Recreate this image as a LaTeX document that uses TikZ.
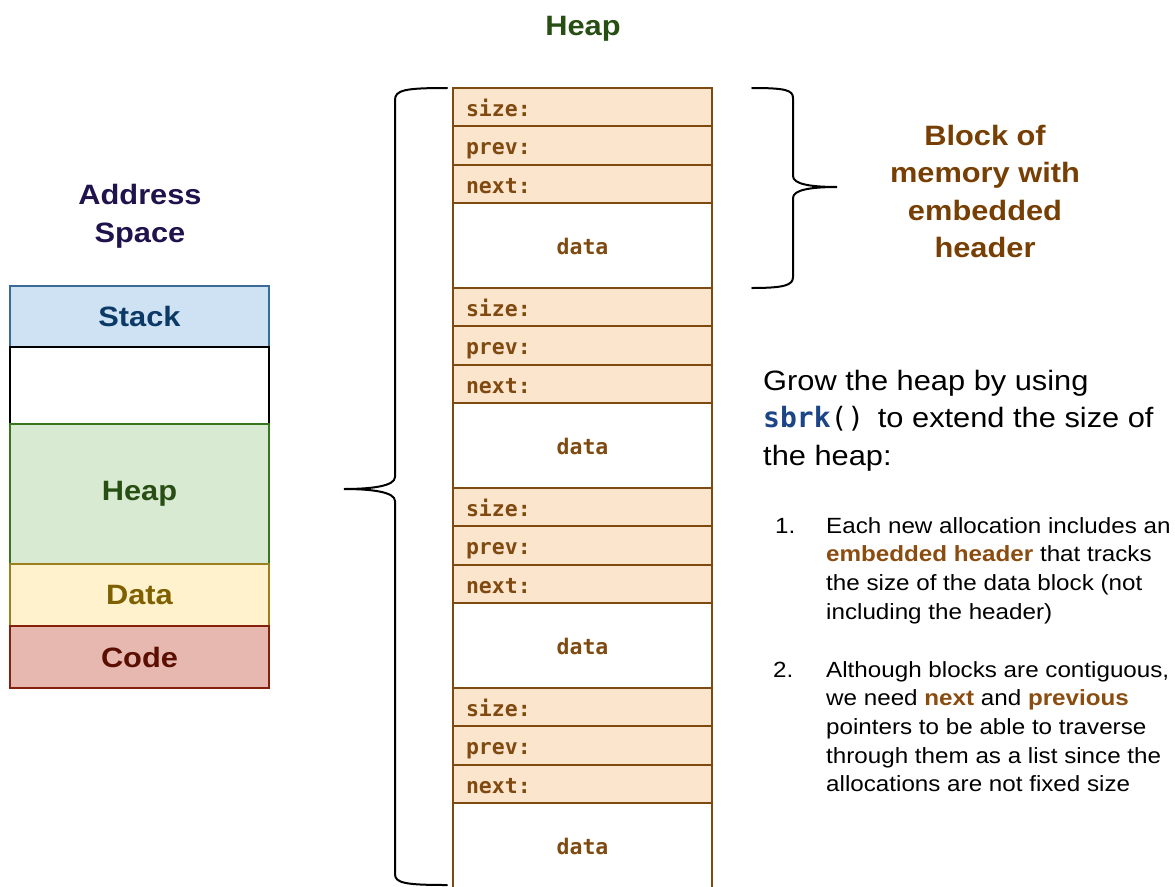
\documentclass[tikz,border=0pt]{standalone}
\usepackage{fontspec}
\setmainfont{Liberation Sans}[FakeStretch=1.1]
\newfontfamily\codefont{DejaVu Sans Mono}
\definecolor{addrpurple}{HTML}{20124D}
\definecolor{stackfill}{HTML}{CFE2F3}
\definecolor{stackline}{HTML}{3A6A98}
\definecolor{stacktext}{HTML}{0B3A66}
\definecolor{heapfill}{HTML}{D9EAD3}
\definecolor{heapline}{HTML}{38761D}
\definecolor{heaptext}{HTML}{274E13}
\definecolor{datafill}{HTML}{FFF2CC}
\definecolor{dataline}{HTML}{9A8020}
\definecolor{datatext}{HTML}{7F6000}
\definecolor{codefill}{HTML}{E6B8AF}
\definecolor{codeline}{HTML}{85200C}
\definecolor{codetext}{HTML}{5B0F00}
\definecolor{hdrfill}{HTML}{FCE5CD}
\definecolor{hdrbrown}{HTML}{7F4A10}
\definecolor{txtbrown}{HTML}{783F04}
\definecolor{accbrown}{HTML}{8B4C10}
\definecolor{sbrkblue}{HTML}{1C4587}
\tikzset{
  seg/.style={draw, line width=2pt, minimum width=259pt, inner sep=0pt,
    font=\bfseries\fontsize{28}{33}\selectfont},
  hrow/.style={draw=hdrbrown, line width=2pt, fill=hdrfill, text width=233pt,
    align=left, inner xsep=13pt, inner ysep=0pt, text height=18pt, text depth=0pt,
    font=\codefont\bfseries\fontsize{21.5}{24}\selectfont, text=hdrbrown},
  drow/.style={hrow, fill=white, align=center},
  brace/.style={line width=2pt, black, line cap=round},
  title/.style={inner sep=0pt, anchor=base, align=center, font=\bfseries\fontsize{28}{37.5}\selectfont},
  body/.style={inner sep=0pt, anchor=base west, align=left},
  listtext/.style={body, font=\fontsize{22}{28.7}\selectfont}
}
\begin{document}
\begin{tikzpicture}[x=1pt,y=-1pt]
\useasboundingbox (0,0) rectangle (1175,886);

% Address space (base anchor of a multi-line node = last line)
\node[title, text=addrpurple] (addrtitle) at (140,242) {Address\\Space};
\node[seg, draw=stackline, fill=stackfill, text=stacktext, minimum height=61pt] (stack) at (139.5,316.5) {Stack};
\node[seg, draw=black, fill=white, minimum height=77pt] (gap) at (139.5,385.5) {};
\node[seg, draw=heapline, fill=heapfill, text=heaptext, minimum height=140pt] (heapseg) at (139.5,494) {Heap};
\node[seg, draw=dataline, fill=datafill, text=datatext, minimum height=62pt] (dataseg) at (139.5,595) {Data};
\node[seg, draw=codeline, fill=codefill, text=codetext, minimum height=62pt] (codeseg) at (139.5,657) {Code};

% Heap column
\node[title, text=heaptext] (heaptitle) at (583,35) {Heap};
\foreach \k in {0,1,2,3}{
  \pgfmathsetmacro{\yo}{88+200*\k}
  \node[hrow, minimum height=38pt] (size\k) at (582.5,\yo+19) {size:};
  \node[hrow, minimum height=39pt] (prev\k) at (582.5,\yo+57.5) {prev:};
  \node[hrow, minimum height=38pt] (next\k) at (582.5,\yo+96) {next:};
  \node[drow, minimum height=85pt] (data\k) at (582.5,\yo+157.5) {data};
}

% big left brace
\draw[brace] (447,88) .. controls (405,88) and (395,90) .. (395,100) -- (395,477)
  .. controls (395,486) and (372,489) .. (344,489)
  .. controls (372,489) and (395,492) .. (395,501) -- (395,874)
  .. controls (395,883) and (405,885) .. (447,885);

% right brace
\draw[brace] (752,88) .. controls (785,88) and (793,90) .. (793,98) -- (793,176)
  .. controls (793,184) and (810,187) .. (837,187)
  .. controls (810,187) and (793,190) .. (793,198) -- (793,277)
  .. controls (793,285) and (785,288) .. (752,288);

\node[title, text=txtbrown] (blocklabel) at (985,257.5) {Block of\\memory with\\embedded\\header};

% explanation
\node[body, font=\fontsize{28}{37.5}\selectfont] (grow) at (763,465)
  {Grow the heap by using\\{\codefont{\bfseries\color{sbrkblue}sbrk}()}\hspace{5pt} to extend the size of\\the heap:};

\node[listtext] (num1) at (775,533) {1.};
\node[listtext] (item1) at (826,619.1)
  {Each new allocation includes an\\{\bfseries\color{accbrown}embedded header} that tracks\\the size of the data block (not\\including the header)};
\node[listtext] (num2) at (773,677) {2.};
\node[listtext] (item2) at (826,791.8)
  {Although blocks are contiguous,\\we need {\bfseries\color{accbrown}next} and {\bfseries\color{accbrown}previous}\\pointers to be able to traverse\\through them as a list since the\\allocations are not fixed size};
\end{tikzpicture}
\end{document}
